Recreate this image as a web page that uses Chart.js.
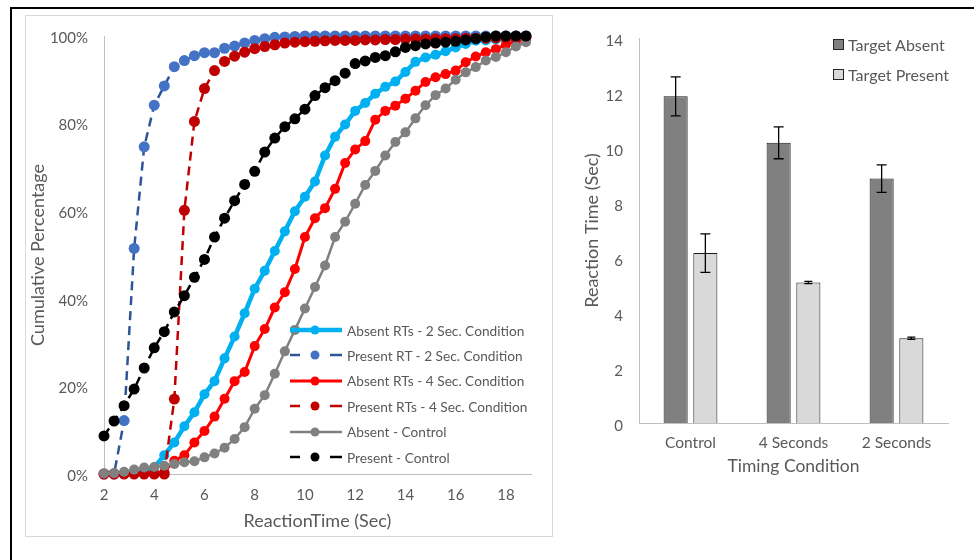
<!DOCTYPE html>
<html>
<head>
<meta charset="utf-8">
<script src="https://cdn.jsdelivr.net/npm/chart.js@4.4.1/dist/chart.umd.min.js"></script>
<style>
  body { margin: 0; background: #fff; }
  #page { position: relative; width: 974px; height: 560px; overflow: hidden; font-family: Lato, "Open Sans", sans-serif; color: #595959; }
  #frame { position: absolute; left: 10px; top: 7px; width: 1000px; height: 600px; border-top: 2px solid #000; border-left: 2px solid #000; }
  #cdfBox { position: absolute; left: 25px; top: 15px; width: 526px; height: 520px; border: 1px solid #D9D9D9; }
  canvas { position: absolute; top: 0; }
  #cdf { left: 0; }
  #bars { left: 560px; }
  .row { position: absolute; display: flex; align-items: center; white-space: nowrap; height: 16px; }
  .row svg { margin-right: 3px; }
  #cdfLegend .row { font-size: 13.7px; }
  #barLegend .row { font-size: 16px; }
  .swatch { width: 9px; height: 9px; border: 1px solid #262626; margin-right: 4px; }
</style>
</head>
<body>
<div id="page">
  <div id="frame"></div>
  <div id="cdfBox"></div>
  <canvas id="cdf" width="560" height="560"></canvas>
  <canvas id="bars" width="414" height="560"></canvas>
  <div id="cdfLegend"></div>
  <div id="barLegend"></div>
</div>
<script>
// ---------- cumulative RT distributions (left) ----------
var rtSec = [2.0, 2.4, 2.8, 3.2, 3.6, 4.0, 4.4, 4.8, 5.2, 5.6, 6.0, 6.4, 6.8, 7.2, 7.6,
             8.0, 8.4, 8.8, 9.2, 9.6, 10.0, 10.4, 10.8, 11.2, 11.6, 12.0, 12.4, 12.8, 13.2,
             13.6, 14.0, 14.4, 14.8, 15.2, 15.6, 16.0, 16.4, 16.8, 17.2, 17.6, 18.0, 18.4, 18.8];

var absent2Sec = [0, 0, 0, 0.3, 0.6, 1.5, 4.3, 7.2, 10.9, 14.1, 18.2, 21.2, 26.4, 31.4, 36.7,
                  42.3, 46.4, 50.9, 55.4, 60.0, 63.3, 66.8, 72.7, 77.0, 79.8, 82.9, 84.7, 86.8, 88.4,
                  89.6, 91.8, 94.1, 95.1, 95.7, 96.5, 97.4, 98.2, 98.9, 99.0, 99.2, 99.3, 99.6, 99.8];
var present2Sec = [0, 0, 12.2, 51.5, 74.7, 84.2, 88.6, 93.0, 94.4, 95.5, 96.2, 96.2, 97.2, 97.7, 98.4,
                   99.0, 99.4, 99.7, 99.8, 99.9, 100, 100, 100, 100, 100, 100, 100, 100, 100,
                   100, 100, 100, 100, 100, 100, 100, 100, 100, 100, 100, 100, 100, 100];
var absent4Sec = [0, 0, 0, 0, 0, 0, 0.5, 3.0, 4.3, 7.2, 9.8, 13.1, 17.2, 21.2, 23.3,
                  29.2, 33.1, 38.0, 41.5, 46.8, 54.1, 58.4, 60.7, 65.1, 71.0, 74.1, 76.0, 80.9, 82.9,
                  84.1, 85.7, 87.5, 89.5, 90.6, 91.3, 92.1, 94.0, 95.3, 96.3, 97.0, 98.0, 98.8, 99.4];
var present4Sec = [0, 0, 0, 0, 0, 0, 0, 17.1, 60.2, 80.5, 88.0, 92.1, 94.2, 95.4, 96.3,
                   97.1, 97.6, 98.0, 98.4, 98.6, 98.7, 98.8, 98.9, 99.0, 99.0, 99.0, 99.1, 99.1, 99.2,
                   99.2, 99.3, 99.3, 99.3, 99.4, 99.4, 99.4, 99.5, 99.5, 99.5, 99.6, 99.6, 99.7, 99.7];
var absentControl = [0.1, 0.2, 0.5, 1.0, 1.5, 1.6, 1.9, 2.3, 2.7, 2.9, 3.8, 4.7, 6.0, 8.0, 10.7,
                     14.9, 18.0, 22.9, 28.0, 32.9, 37.8, 42.7, 47.6, 54.1, 57.6, 61.7, 66.0, 69.2, 72.7,
                     75.8, 78.0, 81.2, 84.2, 86.5, 88.0, 90.0, 91.7, 92.9, 94.4, 95.2, 96.3, 97.6, 98.6];
var presentControl = [8.7, 12.1, 15.6, 19.4, 24.2, 28.8, 32.5, 37.0, 40.7, 44.9, 49.0, 54.1, 58.4, 62.4, 66.1,
                      69.1, 73.5, 76.7, 79.3, 81.1, 83.3, 86.4, 88.2, 89.8, 91.5, 93.7, 94.3, 95.1, 95.5,
                      96.4, 97.4, 97.8, 98.2, 98.4, 98.6, 98.8, 99.1, 99.4, 99.8, 100, 100, 100, 100];

var seriesLabels = ['Absent RTs - 2 Sec. Condition', 'Present RT - 2 Sec. Condition',
                    'Absent RTs - 4 Sec. Condition', 'Present RTs - 4 Sec. Condition',
                    'Absent - Control', 'Present - Control'];
var xTicks = [2, 4, 6, 8, 10, 12, 14, 16, 18];
var pctTicks = [0, 20, 40, 60, 80, 100];

// ---------- mean RT by timing condition (right) ----------
var timingConditions = ['Control', '4 Seconds', '2 Seconds'];
var targetAbsent = [11.88, 10.19, 8.89];
var targetAbsentErr = [0.71, 0.58, 0.5];
var targetPresent = [6.18, 5.11, 3.08];
var targetPresentErr = [0.7, 0.04, 0.04];
var rtTicks = [0, 2, 4, 6, 8, 10, 12, 14];

var FONT = 'Lato, "Open Sans", sans-serif';
var TEXT = '#595959';
var AXIS = '#BFBFBF';
Chart.defaults.font.family = FONT;
Chart.defaults.color = TEXT;

var seriesStyle = [
    { line: '#00B0F0', point: '#00B0F0', width: 4.5, dash: [], r: 5 },
    { line: '#2F5597', point: '#4472C4', width: 2.5, dash: [9, 6], r: 5.5 },
    { line: '#FF0000', point: '#FF0000', width: 3, dash: [], r: 5 },
    { line: '#C00000', point: '#C00000', width: 2.5, dash: [9, 6], r: 5.5 },
    { line: '#808080', point: '#808080', width: 2.5, dash: [], r: 5 },
    { line: '#000000', point: '#000000', width: 2.5, dash: [9, 6], r: 5.5 }
];

var cdfValues = [absent2Sec, present2Sec, absent4Sec, present4Sec, absentControl, presentControl];

var cdfDatasets = cdfValues.map(function(vals, k) {
    var st = seriesStyle[k];
    return {
        label: seriesLabels[k],
        data: vals.map(function(v, i) { return { x: rtSec[i], y: v }; }),
        borderColor: st.line,
        borderWidth: st.width,
        borderDash: st.dash,
        pointRadius: st.r,
        pointBackgroundColor: st.point,
        pointBorderWidth: 0,
        tension: 0,
        clip: false,
        order: 6 - k   // later series drawn on top, as in the original
    };
});

new Chart(document.getElementById('cdf'), {
    type: 'line',
    data: { datasets: cdfDatasets },
    options: {
        responsive: false,
        animation: false,
        events: [],
        layout: { padding: { left: 23, top: 36, right: 29, bottom: 24 } },
        plugins: { legend: { display: false }, tooltip: { enabled: false } },
        scales: {
            x: {
                type: 'linear',
                min: 2,
                max: 19,
                afterBuildTicks: function(s) { s.ticks = xTicks.map(function(v) { return { value: v }; }); },
                afterFit: function(s) { s.height = 62; },
                grid: { display: false, drawTicks: false },
                border: { display: true, color: AXIS, width: 1 },
                ticks: { padding: 12, font: { size: 15 }, color: TEXT },
                title: { display: true, text: 'ReactionTime (Sec)', font: { size: 18 }, color: TEXT }
            },
            y: {
                min: 0,
                max: 100,
                afterBuildTicks: function(s) { s.ticks = pctTicks.map(function(v) { return { value: v }; }); },
                afterFit: function(s) { s.width = 81; },
                grid: { display: false, drawTicks: false },
                border: { display: true, color: AXIS, width: 1 },
                ticks: { padding: 16, labelOffset: 2, font: { size: 15 }, color: TEXT,
                         callback: function(v) { return v + '%'; } },
                title: { display: true, text: 'Cumulative Percentage', font: { size: 18 }, color: TEXT }
            }
        }
    }
});

// legend for the left chart (line + marker samples)
var cdfLegend = document.getElementById('cdfLegend');
seriesLabels.forEach(function(label, k) {
    var st = seriesStyle[k];
    var row = document.createElement('div');
    row.className = 'row';
    row.style.left = '288px';
    row.style.top = (322 + k * 25.4) + 'px';
    var sample;
    if (st.dash.length) {
        sample = '<line x1="2" y1="8" x2="12" y2="8" stroke="' + st.line + '" stroke-width="' + st.width + '"/>' +
                 '<line x1="42" y1="8" x2="54" y2="8" stroke="' + st.line + '" stroke-width="' + st.width + '"/>';
    } else {
        sample = '<line x1="2" y1="8" x2="54" y2="8" stroke="' + st.line + '" stroke-width="' + st.width + '"/>';
    }
    sample += '<circle cx="27" cy="8" r="4.5" fill="' + st.point + '"/>';
    row.innerHTML = '<svg width="56" height="16">' + sample + '</svg><span>' + label + '</span>';
    cdfLegend.appendChild(row);
});

// ---------- bar chart with error bars ----------
var errorBars = {
    id: 'errorBars',
    afterDatasetsDraw: function(chart) {
        var ctx = chart.ctx;
        var y = chart.scales.y;
        chart.data.datasets.forEach(function(ds, di) {
            var meta = chart.getDatasetMeta(di);
            meta.data.forEach(function(bar, i) {
                var top = y.getPixelForValue(ds.data[i] + ds.errors[i]);
                var bot = y.getPixelForValue(ds.data[i] - ds.errors[i]);
                var cap = ds.errors[i] < 0.1 ? 4 : 5;
                ctx.save();
                ctx.strokeStyle = '#000';
                ctx.lineWidth = 1.3;
                ctx.beginPath();
                ctx.moveTo(bar.x, top); ctx.lineTo(bar.x, bot);
                ctx.moveTo(bar.x - cap, top); ctx.lineTo(bar.x + cap, top);
                ctx.moveTo(bar.x - cap, bot); ctx.lineTo(bar.x + cap, bot);
                ctx.stroke();
                ctx.restore();
            });
        });
    }
};

var barColors = ['#808080', '#D9D9D9'];
var barLabels = ['Target Absent', 'Target Present'];

new Chart(document.getElementById('bars'), {
    type: 'bar',
    data: {
        labels: timingConditions,
        datasets: [
            { label: barLabels[0], data: targetAbsent, errors: targetAbsentErr,
              backgroundColor: barColors[0], borderColor: '#1a1a1a', borderWidth: 1,
              categoryPercentage: 0.577, barPercentage: 0.81 },
            { label: barLabels[1], data: targetPresent, errors: targetPresentErr,
              backgroundColor: barColors[1], borderColor: '#1a1a1a', borderWidth: 1,
              categoryPercentage: 0.577, barPercentage: 0.81 }
        ]
    },
    plugins: [errorBars],
    options: {
        responsive: false,
        animation: false,
        events: [],
        layout: { padding: { left: 17, top: 38, right: 26, bottom: 79 } },
        plugins: { legend: { display: false }, tooltip: { enabled: false } },
        scales: {
            x: {
                afterFit: function(s) { s.height = 58; },
                grid: { display: false, drawTicks: false },
                border: { display: true, color: AXIS, width: 1 },
                ticks: { padding: 11, font: { size: 15.5 }, color: TEXT },
                title: { display: true, text: 'Timing Condition', font: { size: 17.5 }, color: TEXT }
            },
            y: {
                min: 0,
                max: 14,
                afterBuildTicks: function(s) { s.ticks = rtTicks.map(function(v) { return { value: v }; }); },
                afterFit: function(s) { s.width = 62; },
                grid: { display: false, drawTicks: false },
                border: { display: true, color: AXIS, width: 1 },
                ticks: { padding: 16, labelOffset: 3, font: { size: 15 }, color: TEXT },
                title: { display: true, text: 'Reaction Time (Sec)', font: { size: 18 }, color: TEXT }
            }
        }
    }
});

var barLegend = document.getElementById('barLegend');
barLabels.forEach(function(label, k) {
    var row = document.createElement('div');
    row.className = 'row';
    row.style.left = '833px';
    row.style.top = (36 + k * 30.5) + 'px';
    row.innerHTML = '<div class="swatch" style="background:' + barColors[k] + '"></div><span>' + label + '</span>';
    barLegend.appendChild(row);
});
</script>
</body>
</html>
